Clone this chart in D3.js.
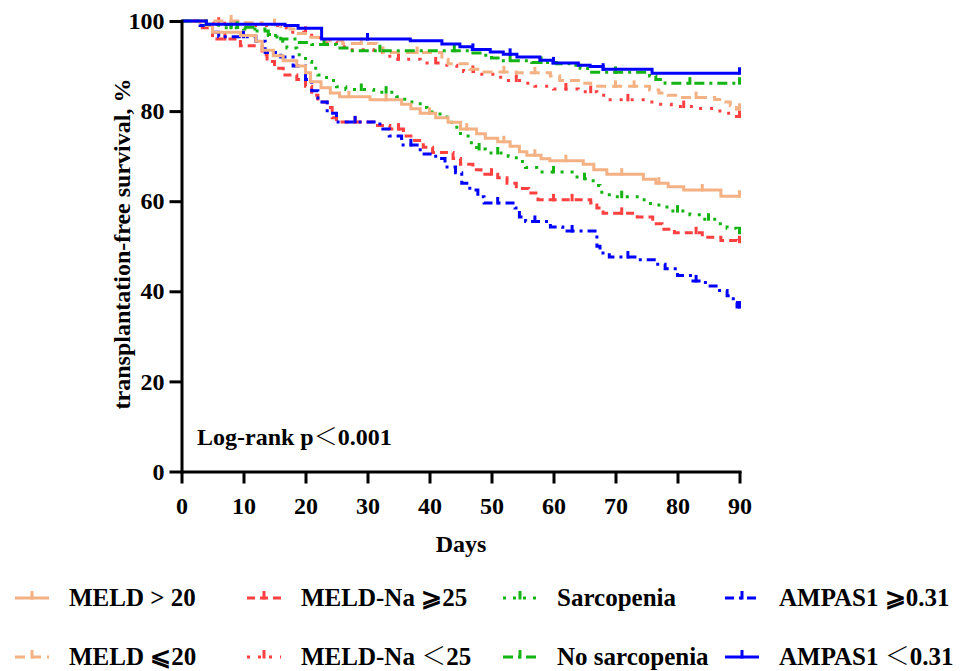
<!DOCTYPE html>
<html>
<head>
<meta charset="utf-8">
<script src="https://cdn.jsdelivr.net/npm/d3@7"></script>
<style>
  body { margin: 0; background: #fff; }
  svg text { font-weight: bold; fill: #000; }
</style>
</head>
<body>
<svg id="chart" width="977" height="671"></svg>
<script>
// KM curves: [day, survival %] after each drop
const meldHigh = [[0,100],[4,99],[5,97.5],[9.5,96.8],[12,95.5],[13,93.5],[14.8,92.3],[16.4,91.2],[18.6,90],[20,88.5],[20.8,86.5],[22.5,85.2],[24,84],[25.5,83.2],[30.4,82.5],[35.5,81.5],[37,80.5],[38.5,79.5],[41,78.5],[43,77.5],[45,76],[47.6,75],[49,74],[51,73.2],[53,72.2],[54.5,71],[55.7,70.2],[58,69.4],[59.4,69],[64.8,68.2],[66.5,67],[68.6,66],[74.5,64.9],[76.5,64],[78.5,63.2],[81,62.5],[87,61.1]]
const meldLow = [[0,100],[10,99.6],[13,99.2],[16,98.8],[17.5,98.2],[18.6,97.2],[20.5,96.4],[23,95.6],[26,95],[31.5,94],[32.5,93],[42,91.5],[43,90.5],[46.5,89.3],[48.5,88.7],[54,88.5],[59.5,87.8],[61,86.8],[64.8,86.2],[66,85.5],[75.5,84.7],[77,84],[78.5,83.5],[80,83],[86,82.6],[87.5,82],[88.5,81.2],[89.5,80.4]]
const meldNaHigh = [[0,100],[3,98.5],[5,96],[9.5,94.5],[13,92.5],[13.8,91],[15,89.5],[16.4,88],[18.6,87],[20,85.5],[21,83.5],[22,82],[23.5,80.8],[24.3,78.5],[25,77.6],[31,76.8],[33.6,76],[35.8,74.5],[37,73.5],[39,72],[40.5,70.8],[43.8,69.5],[45,68.2],[47,67],[48.3,66],[51,65.2],[52.5,64],[54,62.8],[56,61.8],[57.5,60.3],[66,59.6],[67,58.5],[68,57.3],[73.5,56.5],[76,55],[77.5,53.8],[79.5,53],[84,52],[87,51.3],[89.6,51]]
const meldNaLow = [[0,100],[4,99.5],[12,99],[16,98.5],[17.5,97.5],[21,96.3],[23.5,95.3],[25,94.3],[27,93.6],[31,93],[32.5,92.2],[33.6,91.5],[38.5,91.2],[39.6,90.7],[42,90.2],[44.4,89.5],[45.5,88.8],[48,88.2],[50.5,87.5],[52.5,86.8],[55.5,86.2],[57,85.5],[60,84.9],[64,84.3],[67,83.5],[68.5,82.5],[75.5,82],[77,81.5],[79,81],[83,80.6],[86.5,80],[88,79.5],[89.5,78.8]]
const sarco = [[0,100],[4,99.3],[6,98.5],[10,98.2],[14,97],[15.4,95.5],[17,94],[18.6,92.5],[20,91],[21,89.5],[22,88],[23.4,86.8],[25,85.4],[26.5,84.8],[31,84.2],[34.7,83.2],[36,82],[38.5,80.8],[39.6,79.8],[41.7,78.7],[43.3,77.5],[44.4,76],[45,74.5],[46.5,73],[47.6,71.6],[49,70.7],[52.7,70],[54,68.8],[55.5,67.5],[57.3,66.5],[63.8,65],[66.4,63.5],[67.5,62],[69,61],[73.5,60.3],[75,59.5],[77,58.7],[79,57.8],[82,57],[84,56],[86,55],[88,54],[89.5,53]]
const noSarco = [[0,100],[4,99.2],[8,98.6],[11.5,97.8],[14,96.8],[16,96],[18.6,95.2],[21,94.8],[25,94],[27,93.4],[47,92.9],[48.5,92.4],[50,91.8],[51.5,91.2],[56.5,90.8],[60.5,90.5],[62.7,90.2],[64.3,89.5],[65.5,88.6],[75.5,87.8],[76.5,87],[78,86.2]]
const ampasHigh = [[0,100],[3,99],[5,97.5],[6,96.5],[12,95.5],[13.5,93],[16,92],[18,90],[20,87],[21,84.5],[22,82],[23.5,79.5],[25,77.6],[32,76],[33.5,74.5],[35.5,72.5],[38.5,70.5],[41,69.5],[42.5,67.6],[44.2,66.3],[45.2,64],[46.5,62.5],[47.8,61],[48.8,59.6],[53.8,58.5],[54.5,56.5],[55.5,55.5],[59.5,54.3],[61.5,53.4],[67,50],[67.5,48.5],[69,47.6],[74,47],[76.5,46],[78,45],[80,43.5],[82.5,42.3],[84.5,41.2],[86.5,40.2],[88,39],[89,37.5],[89.6,36.5]]
const ampasLow = [[0,100],[4,99.3],[16.7,99],[18.8,98.4],[22.6,96],[36.9,95.6],[42,94.9],[44.9,94.3],[46.9,93.7],[49.8,93.1],[51.9,92.6],[54.1,92],[57.8,91.3],[59.9,90.7],[64,90.2],[65.9,89.9],[68,89.3],[75.9,88.4]]

// censored days (tick marks)
const censorMeldHigh = [27, 33, 40, 46, 52, 57, 62, 71, 77, 84, 90]
const censorMeldLow = [8, 15, 29, 38, 52, 57, 70, 73, 83, 90]
const censorMeldNaHigh = [7, 28, 35, 50, 60, 63, 71, 83, 90]
const censorMeldNaLow = [6, 20, 35, 41, 47, 54, 62, 66, 72, 81, 90]
const censorSarco = [8, 29, 33, 48, 51, 60, 65, 71, 80, 85, 90]
const censorNoSarco = [9, 23, 32, 44, 53, 58, 70, 82, 90]
const censorAmpasHigh = [10, 28, 37, 51, 57, 63, 72, 83, 90]
const censorAmpasLow = [30, 47, 53, 60, 68, 90]

const seriesNames = ["MELD > 20", "MELD-Na ⩾25", "Sarcopenia", "AMPAS1 ⩾0.31",
  "MELD ⩽20", "MELD-Na ＜25", "No sarcopenia", "AMPAS1 ＜0.31"]
const xTicks = [0, 10, 20, 30, 40, 50, 60, 70, 80, 90]
const yTicks = [0, 20, 40, 60, 80, 100]

const orange = "#F4B183", red = "#FF4040", green = "#14B414", blue = "#0000FF"
// try a serif face first, whatever is installed
const serif = "'Liberation Serif', 'Times New Roman', Times, Tinos, 'Noto Serif', 'Nimbus Roman', FreeSerif, 'DejaVu Serif', 'Noto Serif CJK SC', serif"

// legend order (row major), with style per curve
const series = [
  { name: seriesNames[0], steps: meldHigh, censor: censorMeldHigh, color: orange, dash: null },
  { name: seriesNames[1], steps: meldNaHigh, censor: censorMeldNaHigh, color: red, dash: "8,5" },
  { name: seriesNames[2], steps: sarco, censor: censorSarco, color: green, dash: "3,7" },
  { name: seriesNames[3], steps: ampasHigh, censor: censorAmpasHigh, color: blue, dash: "9,5,3,5" },
  { name: seriesNames[4], steps: meldLow, censor: censorMeldLow, color: orange, dash: "10,6" },
  { name: seriesNames[5], steps: meldNaLow, censor: censorMeldNaLow, color: red, dash: "3,8" },
  { name: seriesNames[6], steps: noSarco, censor: censorNoSarco, color: green, dash: "10,5,3,5" },
  { name: seriesNames[7], steps: ampasLow, censor: censorAmpasLow, color: blue, dash: null },
]

const svg = d3.select("#chart")

const x = d3.scaleLinear().domain([0, 90]).range([181.5, 739.5])
const y = d3.scaleLinear().domain([0, 100]).range([471.5, 21])

// survival value at a given day (step function)
const valueAt = (steps, t) => {
  let v = steps[0][1]
  for (const s of steps) { if (s[0] <= t) v = s[1] }
  return v
}

// curves

const line = d3.line()
  .x(d => x(d[0]))
  .y(d => y(d[1]))
  .curve(d3.curveStepAfter)

const curves = svg.append("g")
// draw the lower group first so the top solid blue stays visible
const drawOrder = [2, 1, 3, 0, 5, 4, 6, 7]
drawOrder.forEach(i => {
  const s = series[i]
  const pts = [...s.steps, [90, s.steps[s.steps.length - 1][1]]]
  const g = curves.append("g")
  g.append("path")
    .attr("d", line(pts))
    .attr("fill", "none")
    .attr("stroke", s.color)
    .attr("stroke-width", 3)
    .attr("stroke-dasharray", s.dash)

  g.selectAll("line")
    .data(s.censor)
    .join("line")
    .attr("x1", d => x(d)).attr("x2", d => x(d))
    .attr("y1", d => y(valueAt(s.steps, d)) + 1.5)
    .attr("y2", d => y(valueAt(s.steps, d)) - 6)
    .attr("stroke", s.color)
    .attr("stroke-width", 3)
})

// axes

const xAxis = svg.append("g")
  .attr("transform", `translate(0,${y(0)})`)
  .call(d3.axisBottom(x).tickValues(xTicks).tickSize(12).tickSizeOuter(0).tickPadding(13))

const yAxis = svg.append("g")
  .attr("transform", `translate(${x(0)},0)`)
  .call(d3.axisLeft(y).tickValues(yTicks).tickSize(12).tickSizeOuter(0).tickPadding(5))

;[xAxis, yAxis].forEach(a => {
  a.attr("font-family", serif).attr("font-size", 24)
  a.selectAll("path, line").attr("stroke", "#000").attr("stroke-width", 3)
  a.selectAll("text")
    .attr("fill", "#000")
    .style("font-size", "24px")
    .style("font-family", serif)
    .style("font-weight", "bold")
})
xAxis.select(".domain").attr("stroke-linecap", "square")
yAxis.select(".domain").attr("stroke-linecap", "square")

// axis titles

svg.append("text")
  .attr("x", 461).attr("y", 552)
  .attr("text-anchor", "middle")
  .style("font-family", serif)
  .style("font-size", "24px")
  .text("Days")

svg.append("text")
  .attr("transform", "translate(130,244) rotate(-90)")
  .attr("text-anchor", "middle")
  .style("font-family", serif)
  .style("font-size", "24px")
  .text("transplantation-free survival, %")

svg.append("text")
  .attr("x", 197).attr("y", 445)
  .style("font-family", serif)
  .style("font-size", "24px")
  .text("Log-rank p＜0.001")

// legend

const colX = [15, 247, 503, 725]
const rowY = [598, 657]

series.forEach((s, i) => {
  const lx = colX[i % 4]
  const ly = rowY[Math.floor(i / 4)]
  const g = svg.append("g").attr("transform", `translate(${lx},${ly})`)
  g.append("line")
    .attr("x1", 0).attr("x2", 34)
    .attr("y1", 0).attr("y2", 0)
    .attr("stroke", s.color)
    .attr("stroke-width", 3)
    .attr("stroke-dasharray", s.dash)
  g.append("line")
    .attr("x1", 17).attr("x2", 17)
    .attr("y1", 1.5).attr("y2", -7)
    .attr("stroke", s.color)
    .attr("stroke-width", 3)
  g.append("text")
    .attr("x", 54).attr("y", 8)
    .style("font-family", serif)
    .style("font-size", "25px")
    .text(s.name)
})
</script>
</body>
</html>
